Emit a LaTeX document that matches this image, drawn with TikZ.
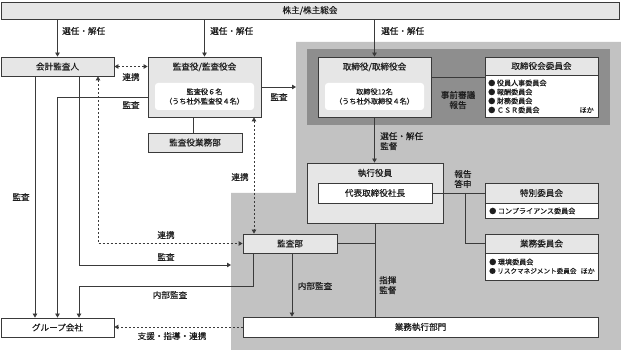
\documentclass[tikz,border=0pt]{standalone}
\usepackage{fontspec}
\setmainfont{Noto Sans CJK JP}[FakeBold=0.35]
\usetikzlibrary{arrows.meta}
\definecolor{lg}{HTML}{E6E6E6}
\definecolor{bandA}{HTML}{C2C2C2}
\definecolor{bandB}{HTML}{8E8E8E}
\definecolor{bd}{HTML}{3A3A3A}
\definecolor{tx}{HTML}{1E1E1E}
\begin{document}
\begin{tikzpicture}[x=1pt,y=-1pt,
  font=\fontsize{8.6}{10}\selectfont, text=tx,
  box/.style={draw=bd, line width=0.8pt, fill=lg, inner sep=0pt, minimum height=19pt},
  wbox/.style={box, fill=white},
  inbox/.style={fill=white, rounded corners=3pt, inner sep=0pt, minimum width=99pt, minimum height=27pt, align=center, font=\fontsize{7.2}{9.5}\selectfont},
  lbl/.style={inner sep=0pt, align=center},
  item/.style={inner sep=0pt, anchor=west, font=\fontsize{7.1}{8}\selectfont},
  conn/.style={draw=bd, line width=0.8pt},
  arr/.style={conn, -{Triangle[length=4pt,width=4.5pt]}},
  darr/.style={conn, dash pattern=on 2pt off 2pt},
  tip/.style={{Triangle[length=4pt,width=4.5pt]}-{Triangle[length=4pt,width=4.5pt]}}
]
\useasboundingbox (0,0) rectangle (621,352);
% gray regions
\fill[bandA] (296,42) -- (621,42) -- (621,350) -- (231,350) -- (231,193) -- (296,193) -- cycle;
\fill[bandB] (307,49) rectangle (610,125);

% nodes
\node[box, minimum width=618pt, minimum height=17pt] (sh) at (310,10.5) {株主/株主総会};
\node[box, minimum width=113pt] (kaikei) at (57.5,66.5) {会計監査人};
\node[box, minimum width=113pt, minimum height=60pt] (kyaku) at (204.5,87) {};
\node[lbl] (kyakut) at (204.5,67) {監査役/監査役会};
\node[inbox] (kyakuin) at (204.5,96.5) {監査役６名\\（うち社外監査役４名）};
\node[box, minimum width=94pt] (gyomubu) at (195,142.5) {監査役業務部};

\node[box, minimum width=113pt, minimum height=60pt] (tori) at (374.5,87) {};
\node[lbl] (torit) at (374.5,67) {取締役/取締役会};
\node[inbox] (toriin) at (374.5,96.5) {取締役12名\\（うち社外取締役４名）};

\node[wbox, minimum width=113pt, minimum height=60pt] (iinkai) at (541.5,87) {};
\node[box, minimum width=113pt, minimum height=18pt, anchor=north] (iinkait) at (iinkai.north) {取締役会委員会};
\node[item] (i1) at (488,83) {● 役員人事委員会};
\node[item] (i2) at (488,92) {● 報酬委員会};
\node[item] (i3) at (488,101) {● 財務委員会};
\node[item] (i4) at (488,110) {● ＣＳＲ委員会};
\node[item, anchor=east] (i5) at (594,110) {ほか};

\node[box, minimum width=136pt, minimum height=60pt] (shikko) at (375,193) {};
\node[lbl] (shikkot) at (375,173) {執行役員};
\node[wbox, minimum width=114pt, minimum height=20pt] (shacho) at (375,193) {代表取締役社長};

\node[wbox, minimum width=113pt, minimum height=35pt] (toku) at (541.5,200.5) {};
\node[box, minimum width=113pt, minimum height=20pt, anchor=north] (tokut) at (toku.north) {特別委員会};
\node[item] (t1) at (489,211) {● コンプライアンス委員会};

\node[wbox, minimum width=113pt, minimum height=46pt] (gyiin) at (541.5,257) {};
\node[box, minimum width=113pt, minimum height=19pt, anchor=north] (gyiint) at (gyiin.north) {業務委員会};
\node[item] (g1i) at (489,262) {● 環境委員会};
\node[item, font=\fontsize{6.6}{8}\selectfont] (g2i) at (489,271) {● リスクマネジメント委員会};
\node[item, anchor=east] (g3i) at (595,271) {ほか};

\node[box, minimum width=94pt] (kansabu) at (290,243.5) {監査部};
\node[wbox, minimum width=113pt] (group) at (57.5,327.5) {グループ会社};
\node[wbox, minimum width=355pt, minimum height=20pt] (shikkobu) at (420.5,327) {業務執行部門};

% free ends
\coordinate (ga) at (296,87);
\coordinate (gb) at (231,265);
\coordinate (br) at (465,193);

% connectors
\draw[arr] (kaikei.north |- sh.south) -- (kaikei.north);
\draw[arr] (kyaku.north |- sh.south) -- (kyaku.north);
\draw[arr] (tori.north |- sh.south) -- (tori.north);
\draw[darr, tip] (kaikei.east) -- (kaikei.east -| kyaku.west);
\draw[arr] (kyaku.east) -- (ga);
\draw[arr] ([yshift=-10pt]kyaku.west) -| (group.north);
\draw[arr] ([xshift=-22.5pt]kaikei.south) -- ([xshift=-22.5pt]group.north);
\draw[arr] ([xshift=21.5pt]kaikei.south) |- (gb);
\draw[darr, tip] ([xshift=40.5pt]kaikei.south) |- (kansabu.west);
\draw[darr, tip] ([xshift=49.5pt]kyaku.south) -- ([xshift=49.5pt]kyaku.south |- kansabu.north);
\draw[conn] ([xshift=-11.5pt]kyaku.south) -- ([xshift=-11.5pt]kyaku.south |- gyomubu.north);
\draw[arr] ([xshift=2pt]kansabu.south) -- ([xshift=2pt]kansabu.south |- shikkobu.north);
\draw[arr] ([xshift=-37pt]kansabu.south) -- ++(0,33) -| ([xshift=21.5pt]group.north);
\draw[darr, -{Triangle[length=4pt,width=4.5pt]}] (shikkobu.west) -- (shikkobu.west -| group.east);
\draw[arr] (tori.south) -- (tori.south |- shikko.north);
\draw[conn] (shikko.south) -- (shikko.south |- shikkobu.north);
\draw[conn] (kansabu.east) -- (kansabu.east -| shikko.south);
\draw[conn] (shacho.east) -- (shacho.east -| tokut.west);
\draw[conn] (br) |- (gyiint.west);
\draw[conn] ([yshift=10pt]tori.east) -- ([yshift=10pt]iinkai.west);

% labels
\node[lbl, anchor=west] at (62,31) {選任・解任};
\node[lbl, anchor=west] at (210,31) {選任・解任};
\node[lbl, anchor=west] at (381,31) {選任・解任};
\node[lbl] at (131,77) {連携};
\node[lbl] at (279,97) {監査};
\node[lbl] at (131,105) {監査};
\node[lbl] at (21,197) {監査};
\node[lbl] at (166,257) {監査};
\node[lbl] at (166,235) {連携};
\node[lbl] at (240,177) {連携};
\node[lbl] at (315,286) {内部監査};
\node[lbl] at (170,295) {内部監査};
\node[lbl] at (172,336) {支援・指導・連携};
\node[lbl, anchor=north west, align=left] at (380,132) {選任・解任\\監督};
\node[lbl, anchor=north west, align=left] at (379,276) {指揮\\監督};
\node[lbl] at (463,179) {報告\\答申};
\node[lbl] at (458,100) {事前審議\\報告};
\end{tikzpicture}
\end{document}
